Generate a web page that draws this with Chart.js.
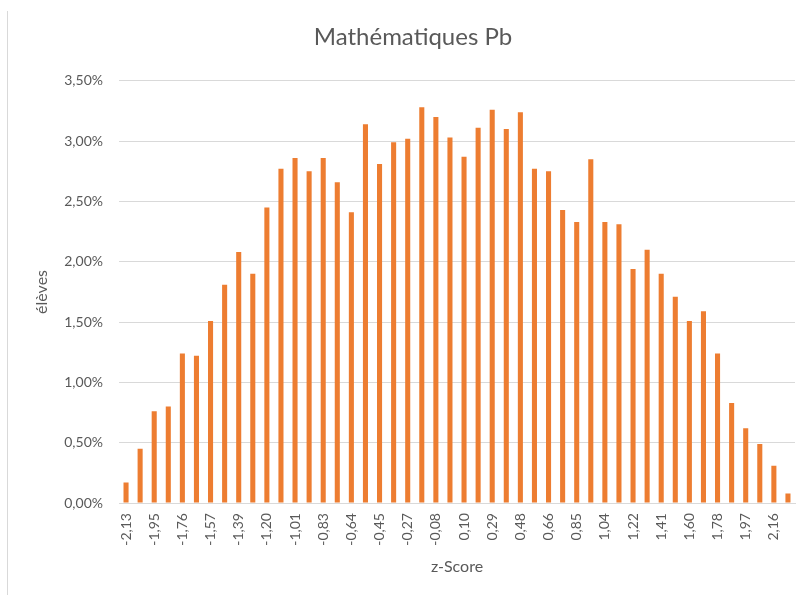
<!DOCTYPE html>
<html>
<head>
<meta charset="utf-8">
<script src="https://cdn.jsdelivr.net/npm/chart.js@4/dist/chart.umd.min.js"></script>
<style>
  html, body { margin: 0; padding: 0; background: #fff; overflow: hidden; width: 798px; height: 595px; }
  #frame { position: absolute; left: 7px; top: 11px; width: 900px; height: 700px; border-left: 1px solid #d9d9d9; }
  #wrap { position: absolute; left: 0; top: 0; width: 826px; height: 595px; }
</style>
</head>
<body>
<div id="frame"></div>
<div id="wrap"><canvas id="c"></canvas></div>
<script>
// z-Score class centres (every other one is labelled on the axis)
const zScores = [
  "-2,13","-2,04","-1,95","-1,85","-1,76","-1,67","-1,57","-1,48",
  "-1,39","-1,29","-1,20","-1,11","-1,01","-0,92","-0,83","-0,73",
  "-0,64","-0,55","-0,45","-0,36","-0,27","-0,17","-0,08","0,01",
  "0,10","0,20","0,29","0,38","0,48","0,57","0,66","0,76",
  "0,85","0,94","1,04","1,13","1,22","1,32","1,41","1,50",
  "1,60","1,69","1,78","1,88","1,97","2,06","2,16","2,25"
];

// share of pupils per class, in percent
const eleves = [
  0.17, 0.45, 0.76, 0.80, 1.24, 1.22, 1.51, 1.81,
  2.08, 1.90, 2.45, 2.77, 2.86, 2.75, 2.86, 2.66,
  2.41, 3.14, 2.81, 2.99, 3.02, 3.28, 3.20, 3.03,
  2.87, 3.11, 3.26, 3.10, 3.24, 2.77, 2.75, 2.43,
  2.33, 2.85, 2.33, 2.31, 1.94, 2.10, 1.90, 1.71,
  1.51, 1.59, 1.24, 0.83, 0.62, 0.49, 0.31, 0.08
];

// y-axis range and tick spacing (percent)
const yTicks = { min: 0, max: 3.5, step: 0.5 };

const grey = '#595959';
const fontFamily = 'Lato, "Open Sans", sans-serif';

const fmtPct = v => v.toFixed(2).replace('.', ',') + '%';

new Chart(document.getElementById('c'), {
  type: 'bar',
  data: {
    labels: zScores,
    datasets: [{
      label: 'élèves',
      data: eleves,
      backgroundColor: '#ED7D31',
      borderWidth: 0,
      categoryPercentage: 1.0,
      barPercentage: 0.36
    }]
  },
  options: {
    responsive: true,
    maintainAspectRatio: false,
    animation: false,
    layout: { padding: { left: 31, right: 31, top: 0, bottom: 19 } },
    plugins: {
      legend: { display: false },
      tooltip: { enabled: false },
      title: {
        display: true,
        text: 'Mathématiques Pb',
        color: grey,
        font: { family: fontFamily, size: 24, weight: 'normal' },
        padding: { top: 23, bottom: 29 }
      }
    },
    scales: {
      x: {
        grid: { display: false, drawTicks: false },
        border: { display: true, color: '#d9d9d9', width: 1 },
        ticks: {
          autoSkip: false,
          maxRotation: 90,
          minRotation: 90,
          padding: 10,
          color: grey,
          font: { family: fontFamily, size: 14 },
          callback: function (value, index) {
            return index % 2 === 0 ? this.getLabelForValue(value) : null;
          }
        },
        title: {
          display: true,
          text: 'z-Score',
          color: grey,
          font: { family: fontFamily, size: 16 },
          padding: { top: 1, bottom: 0 }
        }
      },
      y: {
        min: yTicks.min,
        max: yTicks.max,
        afterFit: scale => { scale.width = 88; },
        grid: { color: '#d9d9d9', drawTicks: false },
        border: { display: false },
        ticks: {
          stepSize: yTicks.step,
          padding: 16,
          color: grey,
          font: { family: fontFamily, size: 14 },
          callback: v => fmtPct(v)
        },
        title: {
          display: true,
          text: 'élèves',
          color: grey,
          font: { family: fontFamily, size: 16 },
          padding: { top: 1, bottom: 0 }
        }
      }
    }
  }
});
</script>
</body>
</html>
